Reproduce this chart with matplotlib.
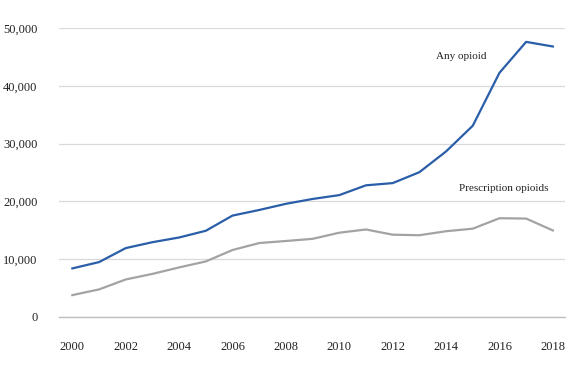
import matplotlib
matplotlib.use("Agg")
import matplotlib.pyplot as plt
from matplotlib.ticker import FuncFormatter

years = list(range(2000, 2019))
any_opioid = [8407, 9496, 11920, 12940, 13756, 14918, 17545, 18516, 19582, 20422,
              21089, 22784, 23166, 25052, 28647, 33091, 42249, 47600, 46802]
prescription = [3785, 4770, 6495, 7456, 8577, 9612, 11589, 12796, 13149, 13523,
                14583, 15140, 14240, 14145, 14838, 15281, 17087, 17029, 14975]

plt.rcParams['font.family'] = ['Liberation Serif', 'DejaVu Serif']

fig = plt.figure(figsize=(5.7, 3.81), dpi=100)
ax = fig.add_axes([0.1035, 0.168, 0.8875, 0.7585])

ax.plot(years, any_opioid, color='#2a5ea8', lw=1.6, clip_on=False)
ax.plot(years, prescription, color='#a3a3a3', lw=1.6, clip_on=False)

ax.set_xlim(1999.5, 2018.45)
ax.set_ylim(0, 50000)
ax.set_xticks(years[::2])
ax.set_yticks(range(0, 50001, 10000))
ax.yaxis.set_major_formatter(FuncFormatter(lambda v, p: '{:,.0f}'.format(v)))

ax.grid(axis='y', color='#d9d9d9', lw=0.9)
ax.set_axisbelow(True)
for s in ['top', 'right', 'left']:
    ax.spines[s].set_visible(False)
ax.spines['bottom'].set_color('#bfbfbf')
ax.spines['bottom'].set_linewidth(1.0)
ax.tick_params(length=0, labelsize=9, colors='#222222')
ax.tick_params(axis='y', pad=15.5)
ax.tick_params(axis='x', pad=17)

ax.text(2014.56, 45000, 'Any opioid', ha='center', va='center', fontsize=8, color='#222222')
ax.text(2016.17, 22300, 'Prescription opioids', ha='center', va='center', fontsize=8, color='#222222')

fig.savefig('out.png', dpi=100)
